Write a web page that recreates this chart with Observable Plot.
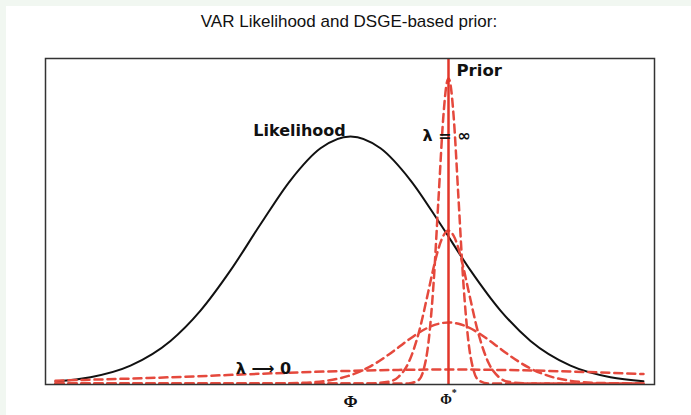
<!DOCTYPE html>
<html><head><meta charset="utf-8">
<script src="https://cdn.jsdelivr.net/npm/d3@7"></script>
<script src="https://cdn.jsdelivr.net/npm/@observablehq/plot@0.6"></script>
<style>
html,body{margin:0;padding:0;background:#f1f7f1;width:691px;height:415px;overflow:hidden;}
#panel{position:absolute;left:6px;top:6px;width:685px;height:409px;background:#fff;}
#title{position:absolute;left:0;top:12px;width:698px;text-align:center;font-family:"Liberation Sans",Arial,sans-serif;font-size:17px;color:#111;}
#chart{position:absolute;left:0;top:46px;}
</style></head>
<body>
<div id="panel"></div>
<div id="title">VAR Likelihood and DSGE-based prior:</div>
<div id="chart"></div>
<script>
// Likelihood curve
const likX = [-2.95,-2.6,-2.2,-1.8,-1.5,-1.2,-0.9,-0.6,-0.3,0,0.3,0.6,0.9,1.2,1.5,1.8,2.2,2.6,2.93];
const likY = [0.022,0.063,0.179,0.426,0.729,1.131,1.592,2.032,2.352,2.47,2.352,2.032,1.592,1.131,0.729,0.426,0.179,0.063,0.023];

// Prior curves centred at Φ*
const priorAX = [-2.95,-0.5,0.38,0.58,0.68,0.73,0.78,0.83,0.88,0.93,0.96,0.98,1.00,1.03,1.08,1.13,1.18,1.23,1.28,1.38,1.58,2.93];
const priorAY = [0,0,0,0.001,0.034,0.134,0.413,0.99,1.85,2.69,2.99,3.05,2.99,2.69,1.85,0.99,0.413,0.134,0.034,0.001,0,0];
const priorBX = [-2.95,-0.5,0.08,0.18,0.38,0.48,0.58,0.68,0.78,0.83,0.88,0.93,0.98,1.03,1.08,1.13,1.18,1.28,1.38,1.48,1.58,1.78,1.88,2.93];
const priorBY = [0,0,0,0.0005,0.017,0.067,0.207,0.497,0.928,1.155,1.35,1.48,1.53,1.48,1.35,1.155,0.928,0.497,0.207,0.067,0.017,0.0005,0,0];
const priorCX = [-2.95,-1.52,-0.92,-0.52,-0.22,-0.02,0.18,0.38,0.48,0.58,0.68,0.78,0.88,0.98,1.08,1.18,1.28,1.38,1.48,1.58,1.78,1.98,2.18,2.48,2.88,2.93];
const priorCY = [0,0,0.0003,0.0056,0.030,0.076,0.161,0.288,0.362,0.437,0.506,0.561,0.597,0.61,0.597,0.561,0.506,0.437,0.362,0.288,0.161,0.076,0.030,0.0056,0.0003,0.0002];
const priorDX = [-2.95,-2.52,-2.02,-1.52,-1.02,-0.52,-0.02,0.48,0.98,1.48,1.98,2.48,2.93];
const priorDY = [0.028,0.040,0.055,0.073,0.093,0.111,0.126,0.136,0.14,0.136,0.126,0.111,0.0945];

const phiStar = 0.98;
const tickValues = [0, phiStar];
const tickLabels = ["Φ", "Φ*"];

const labelText = ["Likelihood", "Prior", "λ = ∞", "λ ⟶ 0"];
const labelX = [-0.51, 1.06, 0.96, -0.87];
const labelY = [2.53, 3.13, 2.48, 0.15];
const labelAnchor = ["middle", "start", "middle", "middle"];

const lik = likX.map((x, i) => ({x, y: likY[i]}));
const priors = [
  ...priorAX.map((x, i) => ({s: "A", x, y: priorAY[i]})),
  ...priorBX.map((x, i) => ({s: "B", x, y: priorBY[i]})),
  ...priorCX.map((x, i) => ({s: "C", x, y: priorCY[i]})),
  ...priorDX.map((x, i) => ({s: "D", x, y: priorDY[i]}))
];
const labels = labelText.map((t, i) => ({t, x: labelX[i], y: labelY[i], a: labelAnchor[i]}));

const chart = Plot.plot({
  width: 691,
  height: 369,
  marginLeft: 45,
  marginRight: 37,
  marginTop: 12,
  marginBottom: 31,
  style: {background: "transparent"},
  x: {domain: [-3.05, 3.04], axis: null},
  y: {domain: [-0.01, 3.25], axis: null},
  marks: [
    Plot.line(lik, {x: "x", y: "y", stroke: "#111", strokeWidth: 2, curve: "monotone-x"}),
    Plot.line(priors, {x: "x", y: "y", z: "s", stroke: "#e5493d", strokeWidth: 2.5, strokeDasharray: "8,5", curve: "monotone-x"}),
    Plot.ruleX([phiStar], {stroke: "#e2362a", strokeWidth: 2.5}),
    Plot.frame({stroke: "#333", strokeWidth: 1.5}),
    Plot.axisX(tickValues, {tickSize: 0, tickPadding: 10, label: null, tickFormat: (d, i) => tickLabels[i], fontSize: 17, fontWeight: "bold", fontFamily: "Liberation Serif", fill: "#111"}),
    Plot.text(labels.filter(d => d.a === "middle"), {x: "x", y: "y", text: "t", textAnchor: "middle", fontSize: 16, fontWeight: "bold", fontFamily: "DejaVu Sans", fill: "#111"}),
    Plot.text(labels.filter(d => d.a === "start"), {x: "x", y: "y", text: "t", textAnchor: "start", fontSize: 16.5, fontWeight: "bold", fontFamily: "DejaVu Sans", fill: "#111"})
  ]
});
document.getElementById("chart").appendChild(chart);
chart.querySelectorAll("text").forEach(t => {
  if (t.textContent === "Φ*") {
    t.textContent = "Φ";
    t.setAttribute("font-size", "14");
    const s = document.createElementNS("http://www.w3.org/2000/svg", "tspan");
    s.setAttribute("dy", "-8");
    s.setAttribute("font-size", "10");
    s.textContent = "*";
    t.appendChild(s);
  }
});
</script>
</body></html>
